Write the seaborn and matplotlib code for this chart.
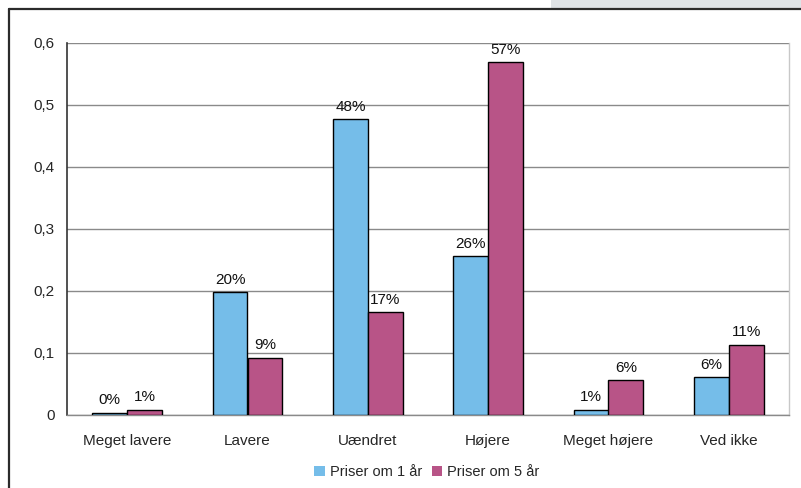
import matplotlib
matplotlib.use("Agg")
import matplotlib.pyplot as plt
from matplotlib.patches import Rectangle, Patch
from matplotlib.lines import Line2D
import seaborn as sns
import pandas as pd

categories = ["Meget lavere", "Lavere", "Uændret", "Højere", "Meget højere", "Ved ikke"]
series_names = ["Priser om 1 år", "Priser om 5 år"]
priser_1_aar = [0.004, 0.198, 0.477, 0.256, 0.008, 0.061]
priser_5_aar = [0.008, 0.092, 0.166, 0.569, 0.056, 0.113]
y_ticks = [0, 0.1, 0.2, 0.3, 0.4, 0.5, 0.6]
y_tick_labels = ["0", "0,1", "0,2", "0,3", "0,4", "0,5", "0,6"]

colors = ["#75BDE9", "#B85487"]

df = pd.DataFrame({
    "kategori": categories * 2,
    "serie": [series_names[0]] * len(categories) + [series_names[1]] * len(categories),
    "andel": priser_1_aar + priser_5_aar,
})

sns.set_style("white")
plt.rcParams["font.family"] = ["Liberation Sans", "DejaVu Sans"]

W, H = 801, 488
fig = plt.figure(figsize=(W / 100, H / 100), dpi=100)

# frame around the figure and the grey band at the top right
fig.patches.append(Rectangle((551 / W, 1 - 8 / H), 1 - 551 / W, 8 / H,
                             transform=fig.transFigure, facecolor="#DFE3E6",
                             edgecolor="none", zorder=0))
fig.lines.append(Line2D([9 / W, 1], [1 - 9 / H, 1 - 9 / H], transform=fig.transFigure,
                        color="#2b2b2b", lw=1.6))
fig.lines.append(Line2D([9 / W, 9 / W], [0, 1 - 9 / H], transform=fig.transFigure,
                        color="#2b2b2b", lw=1.6))

left, right, top, bottom = 67, 789, 43, 415
ax = fig.add_axes([left / W, 1 - bottom / H, (right - left) / W, (bottom - top) / H])

sns.barplot(data=df, x="kategori", y="andel", hue="serie", palette=colors,
            saturation=1, width=0.58, edgecolor="black", linewidth=1.0, ax=ax,
            legend=False, zorder=3)

for container, vals in zip(ax.containers, [priser_1_aar, priser_5_aar]):
    ax.bar_label(container, labels=[f"{v:.0%}" for v in vals], padding=4,
                 fontsize=11, color="#111111")

ax.set_ylim(0, 0.6)
ax.set_xlim(-0.5, len(categories) - 0.5)
ax.set_yticks(y_ticks)
ax.set_yticklabels(y_tick_labels, fontsize=11)
ax.set_xticks(range(len(categories)))
ax.set_xticklabels(categories, fontsize=11)
ax.set_xticks([i - 0.5 for i in range(len(categories) + 1)], minor=True)
ax.tick_params(axis="x", which="major", length=0, pad=14)
ax.tick_params(axis="x", which="minor", length=5, width=1, color="#555555", direction="out")
ax.tick_params(axis="y", length=4, width=1, color="#555555", direction="out", pad=5)
ax.set_xlabel("")
ax.set_ylabel("")

ax.yaxis.grid(True, color="#8a8a8a", lw=1.0, zorder=0)
ax.set_axisbelow(True)
ax.spines["top"].set_visible(False)
ax.spines["left"].set_color("#333333")
ax.spines["left"].set_linewidth(1.2)
ax.spines["bottom"].set_color("#8a8a8a")
ax.spines["bottom"].set_linewidth(1.0)
ax.spines["right"].set_color("#c8c8c8")
ax.spines["right"].set_linewidth(1.0)

handles = [Patch(facecolor=c, edgecolor="none") for c in colors]
fig.legend(handles, series_names, loc="center", bbox_to_anchor=(427 / W, 1 - 472 / H),
           ncol=2, frameon=False, fontsize=10.5, handlelength=0.7, handleheight=0.7,
           handletextpad=0.35, columnspacing=0.7)

fig.savefig("out.png", dpi=100, facecolor="white")
